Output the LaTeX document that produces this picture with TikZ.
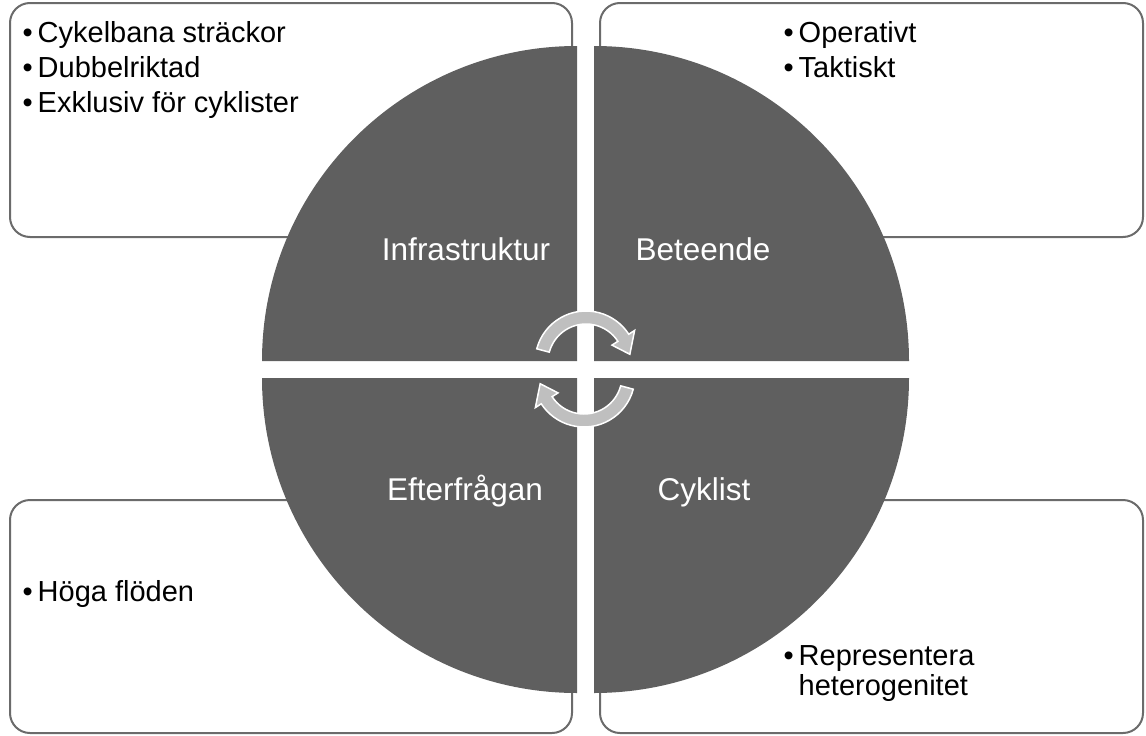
\documentclass[tikz,border=0pt]{standalone}
\usepackage{fontspec}
\setmainfont{Liberation Sans}
\definecolor{quad}{HTML}{5F5F5F}
\definecolor{boxline}{HTML}{6B6B6B}
\definecolor{arrowfill}{HTML}{BFBFBF}
\begin{document}
\begin{tikzpicture}[x=1pt,y=-1pt,
  infobox/.style={draw=boxline, line width=2pt, fill=white, rounded corners=20pt},
  quadrant/.style={fill=quad},
  qlabel/.style={text=white, font=\fontsize{31.5}{38}\selectfont, anchor=base, inner sep=0pt},
  btext/.style={font=\fontsize{29}{35}\selectfont, anchor=base west, inner sep=0pt, text=black},
  cycarrow/.style={fill=arrowfill, draw=white, line width=1.5pt, line join=miter}]
\newcommand{\bul}{\makebox[15pt][l]{•}}
\useasboundingbox (0,0) rectangle (1146,736);

% text boxes
\draw[infobox] (10,3) rectangle (572,237);
\draw[infobox] (600,3) rectangle (1143,237);
\draw[infobox] (10,500) rectangle (572,733);
\draw[infobox] (600,500) rectangle (1143,733);

% quadrants
\fill[quadrant] (577,361) -- (262,361) arc[start angle=180,end angle=270,radius=315] -- cycle;
\fill[quadrant] (594,361) -- (594,46) arc[start angle=270,end angle=360,radius=315] -- cycle;
\fill[quadrant] (594,378) -- (909,378) arc[start angle=0,end angle=90,radius=315] -- cycle;
\fill[quadrant] (577,378) -- (577,693) arc[start angle=90,end angle=180,radius=315] -- cycle;

% quadrant labels
\node[qlabel] (infra) at (466,260) {Infrastruktur};
\node[qlabel] (beteende) at (703,260) {Beteende};
\node[qlabel] (efter) at (465,500) {Efterfrågan};
\node[qlabel] (cyklist) at (704,500) {Cyklist};

% box texts
\node[btext] (tl1) at (22.5,42) {\bul Cykelbana sträckor};
\node[btext] (tl2) at (22.5,77) {\bul Dubbelriktad};
\node[btext] (tl3) at (22.5,112) {\bul Exklusiv för cyklister};
\node[btext] (tr1) at (783.5,42) {\bul Operativt};
\node[btext] (tr2) at (783.5,77) {\bul Taktiskt};
\node[btext] (bl1) at (22.5,601) {\bul Höga flöden};
\node[btext, text depth=0pt] (br1) at (783.5,665) {\bul Representera};
\node[btext, text height=18pt] (br2) at (798.5,695) {heterogenitet};

% circular arrows
\begin{scope}[shift={(586,362)}]
\filldraw[cycarrow] (-165:51) arc[start angle=-165,end angle=-33,radius=51]
  -- (-33:58) -- (-10:44.5) -- (-33:31) -- (-33:38)
  arc[start angle=-33,end angle=-165,radius=38] -- cycle;
\end{scope}
\begin{scope}[shift={(584,376)}]
\filldraw[cycarrow] (15:51) arc[start angle=15,end angle=147,radius=51]
  -- (147:58) -- (170:44.5) -- (147:31) -- (147:38)
  arc[start angle=147,end angle=15,radius=38] -- cycle;
\end{scope}
\end{tikzpicture}
\end{document}
